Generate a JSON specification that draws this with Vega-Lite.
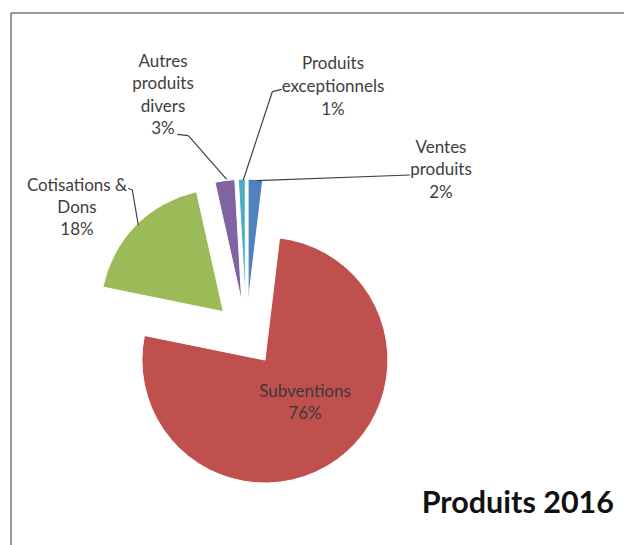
{
  "$schema": "https://vega.github.io/schema/vega-lite/v6.json",
  "width": 614,
  "height": 533,
  "padding": {"left": 11, "top": 13, "right": 0, "bottom": 0},
  "autosize": {"type": "none"},
  "background": "white",
  "config": {"view": {"stroke": null}},
  "data": {
    "values": [
      {"categorie": "Ventes produits", "part": 0.019, "etiquette": "Ventes\nproduits\n2%"},
      {"categorie": "Subventions", "part": 0.763, "etiquette": "Subventions\n76%"},
      {"categorie": "Cotisations & Dons", "part": 0.183, "etiquette": "Cotisations &\nDons\n18%"},
      {"categorie": "Autres produits divers", "part": 0.026, "etiquette": "Autres\nproduits\ndivers\n3%"},
      {"categorie": "Produits exceptionnels", "part": 0.009, "etiquette": "Produits\nexceptionnels\n1%"}
    ]
  },
  "transform": [{"stack": "part", "groupby": [], "as": ["v0", "v1"]}],
  "layer": [
    {"data": {"values": [{}]}, "mark": {"type": "rule", "color": "#333333", "strokeWidth": 1}, "encoding": {"x": {"value": 0}, "x2": {"value": 620}, "y": {"value": 0}, "y2": {"value": 0}}},
    {"data": {"values": [{}]}, "mark": {"type": "rule", "color": "#333333", "strokeWidth": 1}, "encoding": {"x": {"value": 0}, "x2": {"value": 0}, "y": {"value": 0}, "y2": {"value": 540}}},
    {
      "mark": {
        "type": "arc",
        "outerRadius": 123,
        "x": 235.2,
        "y": 321.1,
        "xOffset": {"expr": "32*sin(PI*(datum.v0+datum.v1))"},
        "yOffset": {"expr": "-32*cos(PI*(datum.v0+datum.v1))"},
        "stroke": "white",
        "strokeWidth": 1
      },
      "encoding": {
        "theta": {"field": "v0", "type": "quantitative", "scale": {"domain": [0, 1], "nice": false}},
        "theta2": {"field": "v1"},
        "color": {
          "field": "categorie",
          "type": "nominal",
          "scale": {
            "domain": ["Ventes produits", "Subventions", "Cotisations & Dons", "Autres produits divers", "Produits exceptionnels"],
            "range": ["#4F81BD", "#C0504D", "#9BBB59", "#8064A2", "#4BACC6"]
          },
          "legend": null
        }
      }
    },
    {"data": {"values": [{}]}, "mark": {"type": "rule", "color": "#404040", "strokeWidth": 1.2}, "encoding": {"x": {"value": 166.3}, "y": {"value": 121.3}, "x2": {"value": 177.3}, "y2": {"value": 122.7}}},
    {"data": {"values": [{}]}, "mark": {"type": "rule", "color": "#404040", "strokeWidth": 1.2}, "encoding": {"x": {"value": 177.3}, "y": {"value": 122.7}, "x2": {"value": 215.7}, "y2": {"value": 166.3}}},
    {"data": {"values": [{}]}, "mark": {"type": "rule", "color": "#404040", "strokeWidth": 1.2}, "encoding": {"x": {"value": 270.7}, "y": {"value": 76.3}, "x2": {"value": 261.3}, "y2": {"value": 78.7}}},
    {"data": {"values": [{}]}, "mark": {"type": "rule", "color": "#404040", "strokeWidth": 1.2}, "encoding": {"x": {"value": 261.3}, "y": {"value": 78.7}, "x2": {"value": 232.3}, "y2": {"value": 167}}},
    {"data": {"values": [{}]}, "mark": {"type": "rule", "color": "#404040", "strokeWidth": 1.2}, "encoding": {"x": {"value": 245.7}, "y": {"value": 167.7}, "x2": {"value": 399}, "y2": {"value": 162}}},
    {"data": {"values": [{}]}, "mark": {"type": "rule", "color": "#404040", "strokeWidth": 1.2}, "encoding": {"x": {"value": 117.3}, "y": {"value": 175.3}, "x2": {"value": 121.3}, "y2": {"value": 177}}},
    {"data": {"values": [{}]}, "mark": {"type": "rule", "color": "#404040", "strokeWidth": 1.2}, "encoding": {"x": {"value": 121.3}, "y": {"value": 177}, "x2": {"value": 127.3}, "y2": {"value": 212}}},
    {
      "transform": [{"filter": {"field": "categorie", "equal": "Autres produits divers"}}],
      "mark": {"type": "text", "x": 152, "y": 49, "align": "center", "baseline": "middle", "lineBreak": "\n", "lineHeight": 22.4, "font": "Lato", "fontSize": 17, "color": "#404040"},
      "encoding": {"text": {"field": "etiquette", "type": "nominal"}}
    },
    {
      "transform": [{"filter": {"field": "categorie", "equal": "Produits exceptionnels"}}],
      "mark": {"type": "text", "x": 322, "y": 51, "align": "center", "baseline": "middle", "lineBreak": "\n", "lineHeight": 22.8, "font": "Lato", "fontSize": 17, "color": "#404040"},
      "encoding": {"text": {"field": "etiquette", "type": "nominal"}}
    },
    {
      "transform": [{"filter": {"field": "categorie", "equal": "Ventes produits"}}],
      "mark": {"type": "text", "x": 430, "y": 135, "align": "center", "baseline": "middle", "lineBreak": "\n", "lineHeight": 22.4, "font": "Lato", "fontSize": 17, "color": "#404040"},
      "encoding": {"text": {"field": "etiquette", "type": "nominal"}}
    },
    {
      "transform": [{"filter": {"field": "categorie", "equal": "Cotisations & Dons"}}],
      "mark": {"type": "text", "x": 66, "y": 173, "align": "center", "baseline": "middle", "lineBreak": "\n", "lineHeight": 22.2, "font": "Lato", "fontSize": 17, "color": "#404040"},
      "encoding": {"text": {"field": "etiquette", "type": "nominal"}}
    },
    {
      "transform": [{"filter": {"field": "categorie", "equal": "Subventions"}}],
      "mark": {"type": "text", "x": 294, "y": 379, "align": "center", "baseline": "middle", "lineBreak": "\n", "lineHeight": 21.5, "font": "Lato", "fontSize": 17, "color": "#3a3a3a"},
      "encoding": {"text": {"field": "etiquette", "type": "nominal"}}
    },
    {
      "data": {"values": [{"titre": "Produits 2016"}]},
      "mark": {"type": "text", "x": 603, "y": 500.3, "align": "right", "baseline": "alphabetic", "font": "Lato", "fontSize": 30.5, "fontWeight": "bold", "color": "#111111"},
      "encoding": {"text": {"field": "titre", "type": "nominal"}}
    }
  ]
}
